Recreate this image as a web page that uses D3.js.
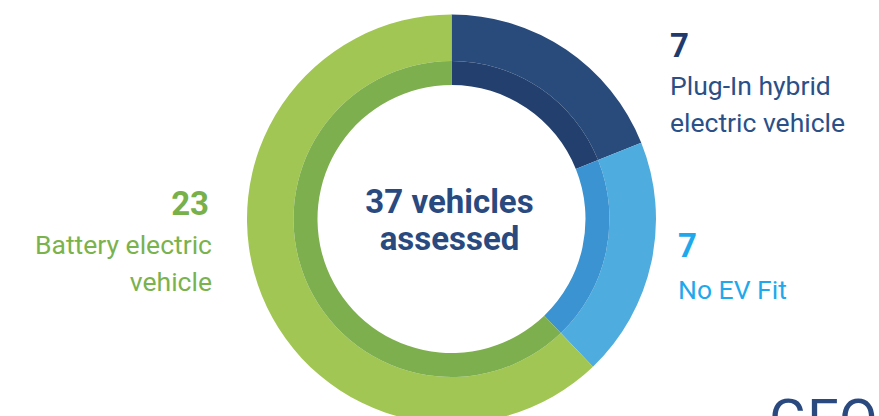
<!DOCTYPE html>
<html>
<head>
<meta charset="utf-8">
<script src="https://cdn.jsdelivr.net/npm/d3@7"></script>
<style>
  html, body { margin: 0; padding: 0; background: #fff; }
  svg { display: block; font-family: Roboto, 'Noto Sans', sans-serif; }
</style>
</head>
<body>
<div id="chart"></div>
<script>
'use strict';

// Chart data
const categories = ['Plug-In hybrid electric vehicle', 'No EV Fit', 'Battery electric vehicle'];
const counts = [7, 7, 23];
const labelLines = [['Plug-In hybrid', 'electric vehicle'], ['No EV Fit'], ['Battery electric', 'vehicle']];
const centerLines = ['37 vehicles', 'assessed'];

// Colours (outer band / inner band / label)
const outerColors = ['#284b7b', '#4eacde', '#a2c653'];
const innerColors = ['#233f6d', '#3b93d2', '#7eaf4e'];
const numberColors = ['#1f3b6e', '#1fa9ec', '#78b04a'];
const textColors = ['#2b5087', '#1fa9ec', '#7ab24e'];

const width = 879;
const height = 416;
const cx = 451.5, cy = 219;
const rOuter = 204.5, rMid = 158, rInner = 134;

const svg = d3.select('#chart')
  .append('svg')
  .attr('width', width)
  .attr('height', height);

const data = categories.map((c, i) => ({ name: c, value: counts[i], i }));

const pie = d3.pie()
  .sort(null)
  .value(d => d.value)
  .startAngle(0)
  .endAngle(2 * Math.PI);

const arcs = pie(data);

const outerArc = d3.arc().innerRadius(rMid).outerRadius(rOuter);
const innerArc = d3.arc().innerRadius(rInner).outerRadius(rMid);

const g = svg.append('g')
  .attr('transform', `translate(${cx}, ${cy})`);

g.selectAll('.outer')
  .data(arcs)
  .join('path')
  .attr('class', 'outer')
  .attr('d', outerArc)
  .attr('fill', d => outerColors[d.data.i]);

g.selectAll('.inner')
  .data(arcs)
  .join('path')
  .attr('class', 'inner')
  .attr('d', innerArc)
  .attr('fill', d => innerColors[d.data.i]);

// Centre text
g.selectAll('.center')
  .data(centerLines)
  .join('text')
  .attr('class', 'center')
  .attr('text-anchor', 'middle')
  .attr('x', -2)
  .attr('y', (d, i) => -6 + i * 37)
  .attr('font-size', 33)
  .attr('font-weight', 700)
  .attr('fill', '#2a4a7f')
  .text(d => d);

// Labels
const labelPos = [
  { x: 670, y: 57, gap: 38, anchor: 'start' },
  { x: 678, y: 257, gap: 42, anchor: 'start' },
  { x: 209, y: 215, gap: 39, anchor: 'end' }
];

data.forEach((d, i) => {
  const p = labelPos[i];
  svg.append('text')
    .attr('x', p.x)
    .attr('y', p.y)
    .attr('text-anchor', p.anchor)
    .attr('font-size', 33)
    .attr('font-weight', 700)
    .attr('fill', numberColors[i])
    .text(d.value);

  svg.selectAll(null)
    .data(labelLines[i])
    .join('text')
    .attr('x', p.x + (p.anchor === 'end' ? 3 : 0))
    .attr('y', (t, k) => p.y + p.gap + k * 37)
    .attr('text-anchor', p.anchor)
    .attr('font-size', 26.5)
    .attr('fill', textColors[i])
    .text(t => t);
});

// Partial logo at bottom right (cut by the frame, as in the source)
svg.append('text')
  .attr('x', 769)
  .attr('y', 439)
  .attr('font-size', 56)
  .attr('font-weight', 400)
  .attr('fill', '#2a4a7f')
  .text('GEO');
</script>
</body>
</html>
